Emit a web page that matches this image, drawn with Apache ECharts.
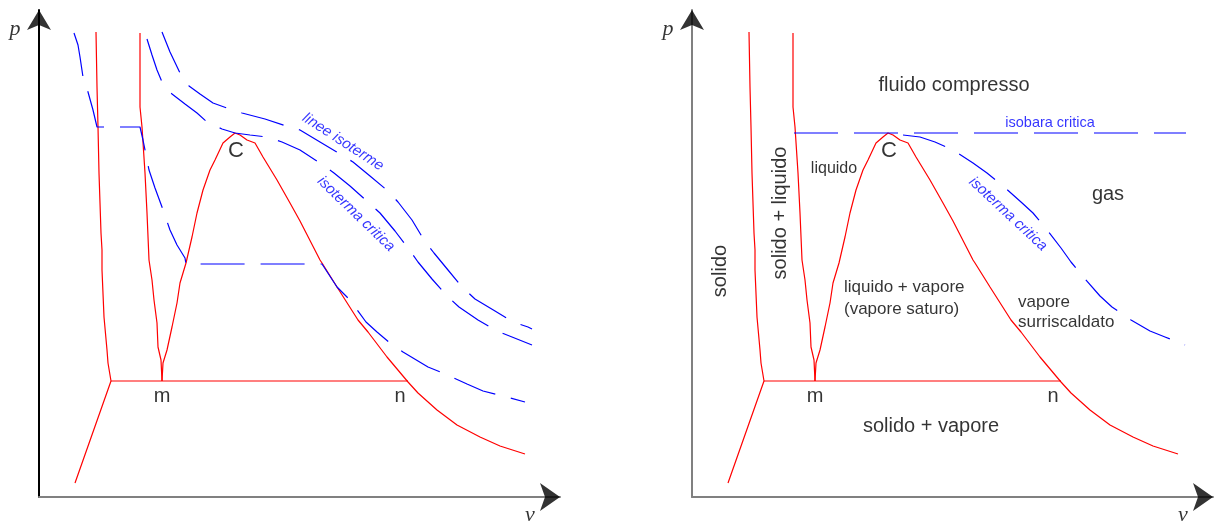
<!DOCTYPE html>
<html><head><meta charset="utf-8">
<script src="https://cdn.jsdelivr.net/npm/echarts@6/dist/echarts.min.js"></script>
<style>html,body{margin:0;padding:0;background:#fff}#c{width:1214px;height:521px}</style>
</head><body><div id="c"></div>
<script>
// Values are [v, p] measured from each panel's axis origin (same scale in both panels)
const sublimationFusionLine = [[36,14],[72,116],[69,134],[68,147],[65,180],[63,227],[63,247],[62,264],[60,324],[59,370],[58,410],[57,465]];
const liquidFusionLine = [[123,116],[122,137],[119,150],[118,174],[115,197],[113,217],[110,237],[108,284],[106,324],[103,370],[101,390],[101,464]];
const tripleLine = [[72,116],[369,116]];
const saturationDome = [[123,116],[124,134],[128,147],[133,170],[138,194],[141,214],[147,234],[153,260],[158,284],[164,307],[171,327],[176,337],[184,354],[191,360],[196,364],[201,362],[208,357],[216,354],[224,340],[238,317],[251,294],[261,276],[281,237],[283,234],[298,210],[319,177],[329,165],[348,140],[369,115],[379,104],[398,87],[418,72],[441,60],[461,51],[486,43]];
const lowIsotherm = [[35,464],[39,452],[41,440],[44,420],[49,405],[54,387],[58,370],[101,370],[104,357],[110,327],[116,309],[123,290],[131,267],[138,252],[146,239],[147,233],[283,233],[298,210],[311,197],[327,175],[338,165],[351,154],[364,145],[374,139],[389,130],[404,124],[428,113],[444,106],[468,100],[486,95]];
const criticalIsotherm = [[108,458],[113,442],[118,427],[123,415],[133,403],[146,393],[158,384],[168,375],[183,368],[196,364],[211,362],[228,360],[243,355],[261,347],[281,334],[295,324],[311,311],[329,295],[341,284],[356,266],[369,249],[379,235],[393,218],[408,201],[420,190],[439,177],[458,166],[473,160],[493,152]];
const highIsotherm = [[123,465],[131,445],[141,424],[150,411],[161,403],[174,394],[188,389],[203,384],[226,378],[247,371],[261,367],[281,355],[301,343],[314,335],[331,321],[349,306],[359,295],[373,277],[385,257],[395,244],[409,227],[423,210],[436,198],[456,186],[474,175],[489,170],[493,168]];
const criticalIsobar = [[102,364],[494,364]];

// Annotations: [text, v, p, kind, rotate]
const leftNotes = [
  ['p', -24, 468, 'axis', 0],
  ['v', 491, -18, 'axis', 0],
  ['C', 197, 346, 'big', 0],
  ['m', 123, 101, 'mid', 0],
  ['n', 361, 101, 'mid', 0],
  ['linee isoterme', 304, 355, 'blue', -33],
  ['isoterma critica', 317, 283, 'blue', -44]
];
const rightNotes = [
  ['p', -24, 468, 'axis', 0],
  ['v', 491, -18, 'axis', 0],
  ['fluido compresso', 262, 412, 'label', 0],
  ['isobara critica', 358, 374, 'blueH', 0],
  ['C', 197, 346, 'big', 0],
  ['liquido', 142, 328, 'small', 0],
  ['gas', 416, 303, 'label', 0],
  ['solido', 28, 226, 'label', 90],
  ['solido + liquido', 88, 284, 'label', 90],
  ['liquido + vapore\n(vapore saturo)', 152, 199, 'smallLeft', 0],
  ['vapore\nsurriscaldato', 326, 185, 'smallLeft2', 0],
  ['m', 123, 101, 'mid', 0],
  ['n', 361, 101, 'mid', 0],
  ['solido + vapore', 239, 71, 'label', 0],
  ['isoterma critica', 316, 283, 'blue', -43]
];

const RED = '#ff0000', BLUE = '#0000ff';
const styles = {
  axis: {fontFamily:'Liberation Serif', fontStyle:'italic', fontSize:22, color:'#000'},
  big: {fontFamily:'Liberation Sans', fontSize:22, color:'#000'},
  label: {fontFamily:'Liberation Sans', fontSize:20, color:'#000'},
  mid: {fontFamily:'Liberation Sans', fontSize:20, color:'#000'},
  small: {fontFamily:'Liberation Sans', fontSize:16, color:'#000'},
  smallLeft: {fontFamily:'Liberation Sans', fontSize:17, color:'#000', align:'left', lineHeight:22},
  smallLeft2: {fontFamily:'Liberation Sans', fontSize:17, color:'#000', align:'left', lineHeight:20},
  blue: {fontFamily:'Liberation Sans', fontStyle:'italic', fontSize:15, color:BLUE},
  blueH: {fontFamily:'Liberation Sans', fontSize:14.5, color:BLUE}
};

function axisPair(idx, yColor) {
  const x = {type:'value', gridIndex:idx, min:0, max:521,
    axisLine:{show:true, onZero:false, lineStyle:{color:'#808080', width:2}},
    axisTick:{show:false}, axisLabel:{show:false}, splitLine:{show:false}};
  const y = {type:'value', gridIndex:idx, min:0, max:487,
    axisLine:{show:true, onZero:false, lineStyle:{color:yColor, width:2}},
    axisTick:{show:false}, axisLabel:{show:false}, splitLine:{show:false}};
  return [x, y];
}
const [x0, y0] = axisPair(0, '#000');
const [x1, y1] = axisPair(1, '#808080');

function line(data, idx, color, dashed) {
  return {type:'line', xAxisIndex:idx, yAxisIndex:idx, data:data, showSymbol:false, symbol:'none',
    silent:true, clip:false, animation:false,
    lineStyle:{color:color, width:1.2, type: dashed ? [44,16] : 'solid'}};
}
function notes(list, idx) {
  return {type:'scatter', xAxisIndex:idx, yAxisIndex:idx, symbolSize:1, clip:false, silent:true, animation:false,
    itemStyle:{color:'rgba(0,0,0,0)'},
    data: list.map(n => ({name:n[0], value:[n[1], n[2]],
      label:Object.assign({show:true, position:'inside', formatter:'{b}', rotate:n[4],
        textBorderWidth:0}, styles[n[3]])}))};
}
function arrows(idx) {
  return {type:'scatter', xAxisIndex:idx, yAxisIndex:idx, symbol:'arrow', clip:false, silent:true, animation:false,
    itemStyle:{color:'#000'},
    data:[
      {value:[521, 0], symbolSize:[21, 20], symbolRotate:-90},
      {value:[0, 487], symbolSize:[18, 20], symbolRotate:0}
    ]};
}

const critFromC = criticalIsotherm.slice(criticalIsotherm.findIndex(d => d[0] >= 205));

const chart = echarts.init(document.getElementById('c'), null, {renderer:'canvas'});
chart.setOption({
  animation:false,
  grid:[
    {left:39, top:10, width:521, height:487},
    {left:692, top:10, width:521, height:487}
  ],
  xAxis:[x0, x1],
  yAxis:[y0, y1],
  series:[
    line(sublimationFusionLine, 0, RED), line(liquidFusionLine, 0, RED), line(tripleLine, 0, RED), line(saturationDome, 0, RED),
    line(lowIsotherm, 0, BLUE, true), line(criticalIsotherm, 0, BLUE, true), line(highIsotherm, 0, BLUE, true),
    notes(leftNotes, 0), arrows(0),
    line(sublimationFusionLine, 1, RED), line(liquidFusionLine, 1, RED), line(tripleLine, 1, RED), line(saturationDome, 1, RED),
    line(criticalIsobar, 1, BLUE, true), line(critFromC, 1, BLUE, true),
    notes(rightNotes, 1), arrows(1)
  ]
});
</script></body></html>
